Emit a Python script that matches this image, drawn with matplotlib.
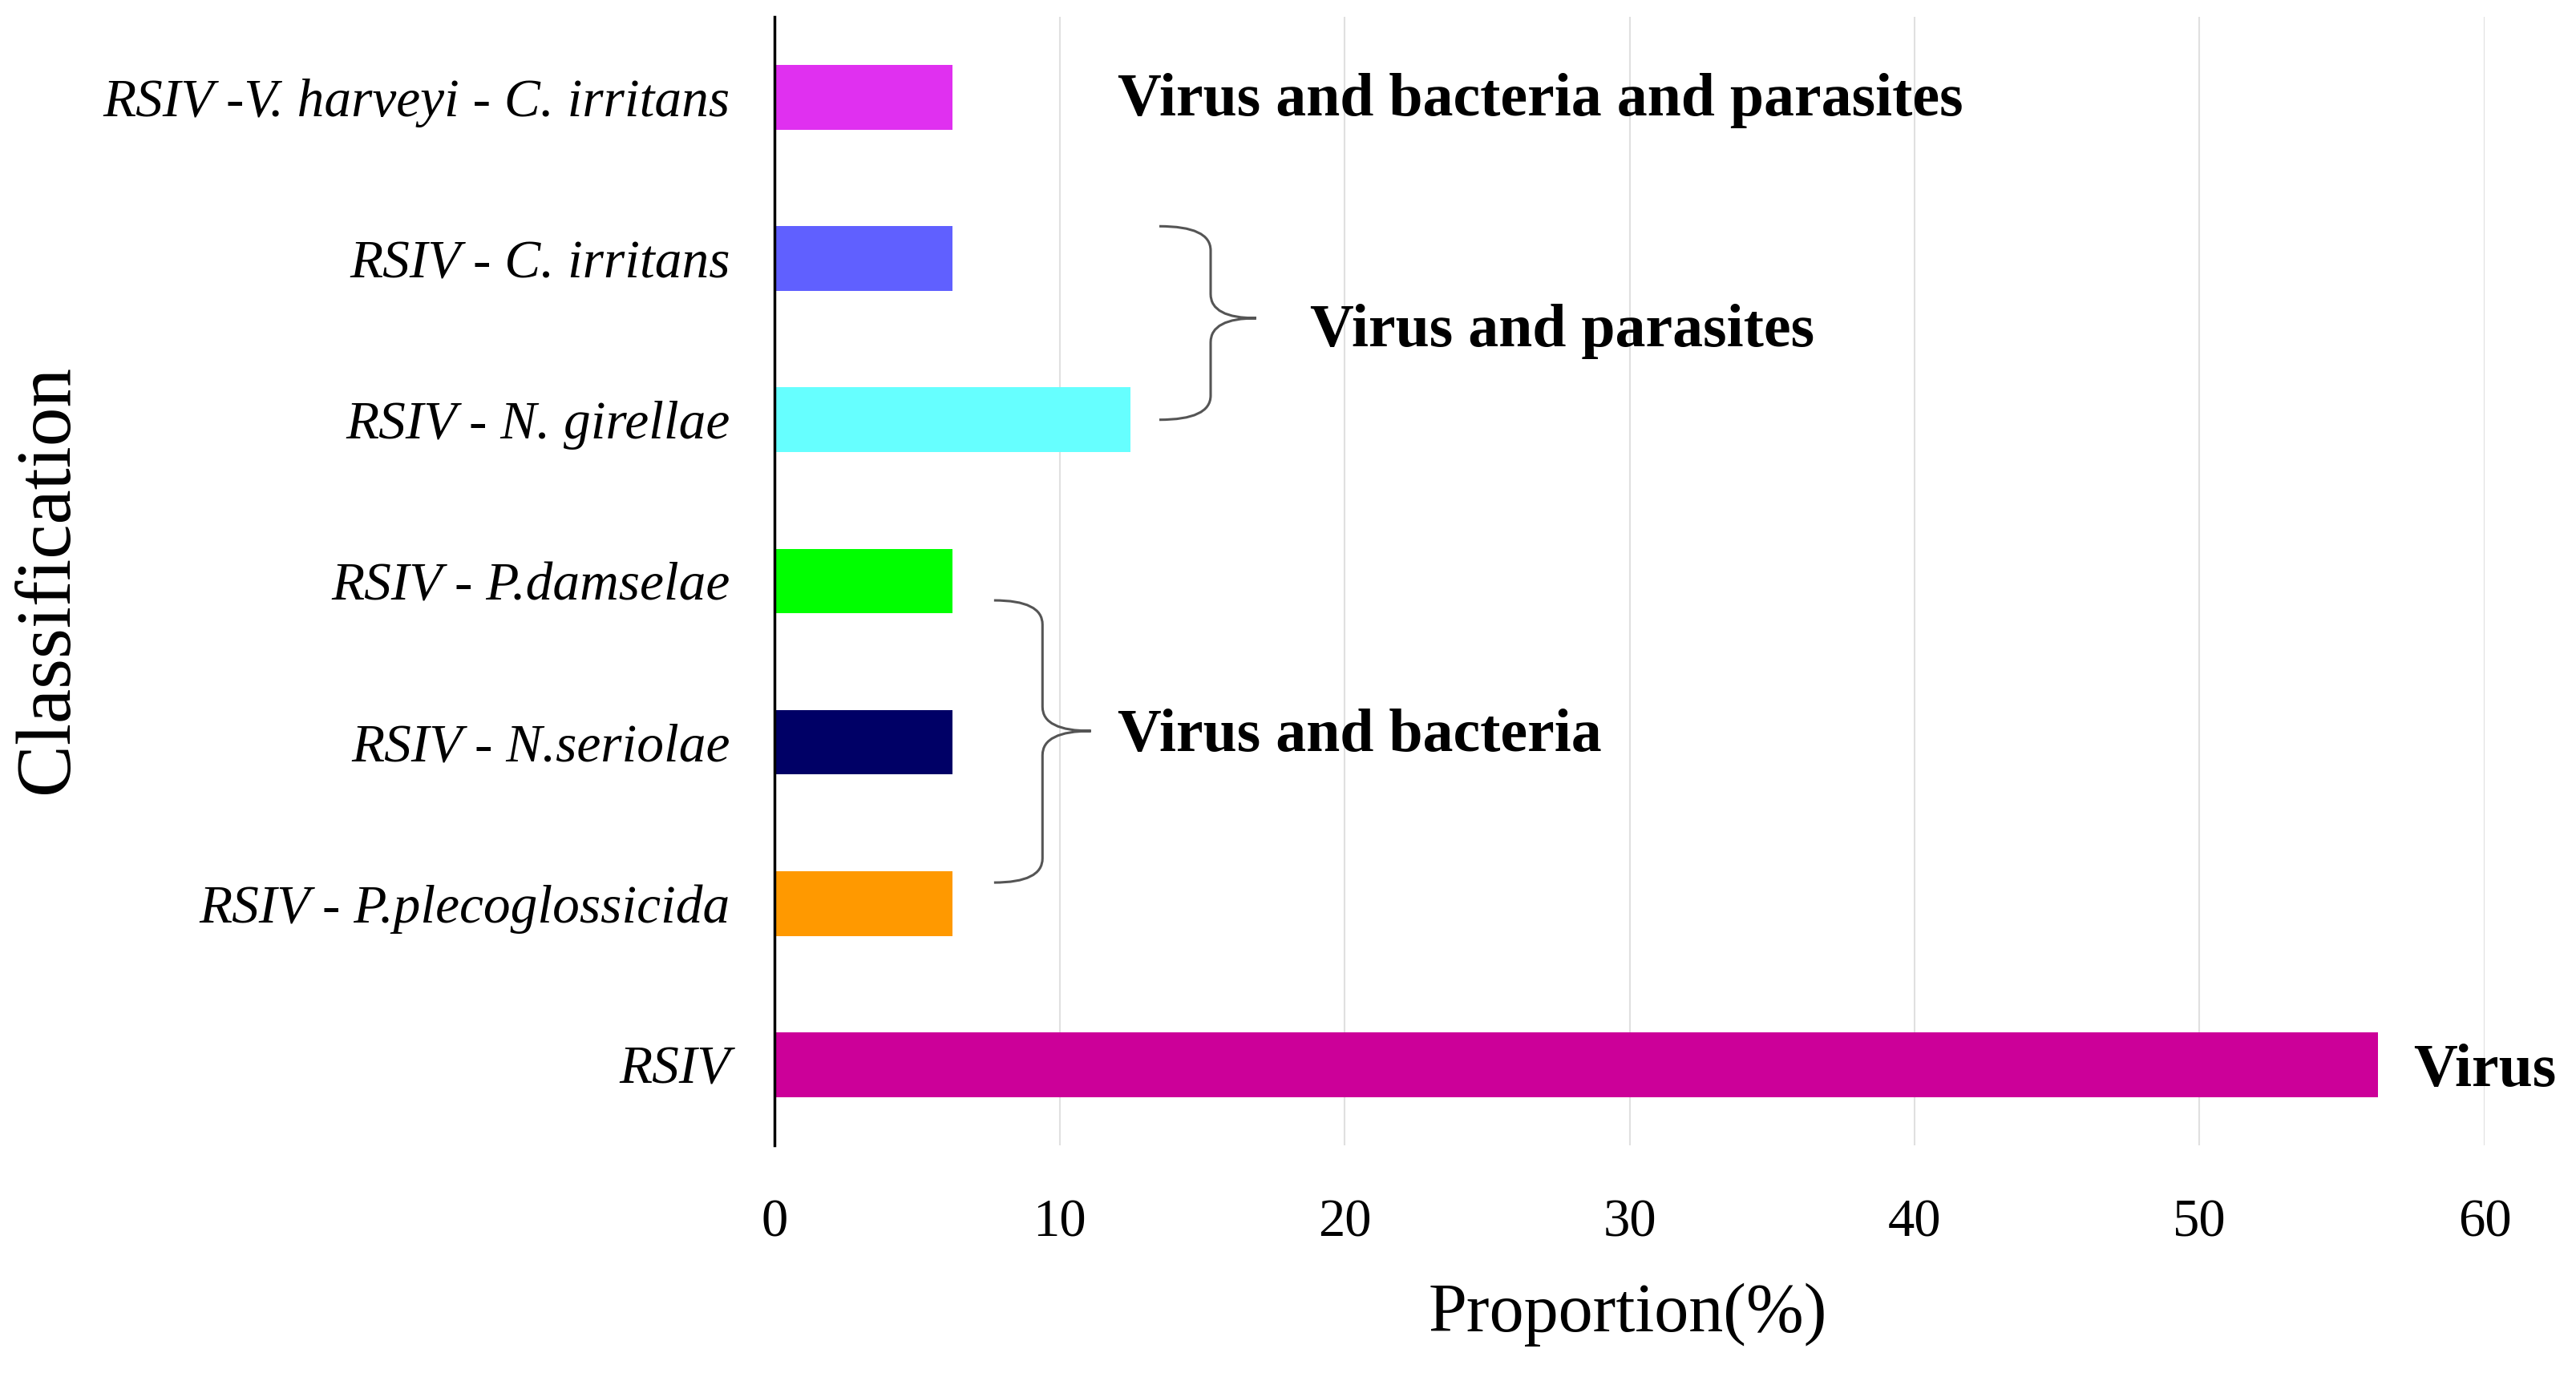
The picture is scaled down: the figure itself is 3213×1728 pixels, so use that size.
import matplotlib
matplotlib.use("Agg")
import matplotlib.pyplot as plt
from matplotlib.path import Path
from matplotlib.patches import PathPatch

# data (bottom to top)
categories = ["RSIV", "RSIV - P.plecoglossicida", "RSIV - N.seriolae",
              "RSIV - P.damselae", "RSIV - N. girellae", "RSIV - C. irritans",
              "RSIV -V. harveyi - C. irritans"]
proportion = [56.25, 6.25, 6.25, 6.25, 12.5, 6.25, 6.25]
colors = ["#CC0099", "#FF9900", "#000066", "#00FF00", "#66FFFF", "#6060FF", "#E030F0"]
xticks = [0, 10, 20, 30, 40, 50, 60]

plt.rcParams["font.family"] = ["Liberation Serif", "DejaVu Serif"]

fig = plt.figure(figsize=(32.13, 17.28), dpi=100)
ax = fig.add_axes([0.3007, 0.173, 0.6638, 0.815])

y = range(len(categories))
ax.barh(y, proportion, height=0.4, color=colors, zorder=3)

ax.set_xlim(0, 60)
ax.set_ylim(-0.5, 6.5)
ax.set_xticks(xticks)
ax.set_yticks(list(y))
ax.set_yticklabels(categories, fontsize=48.5, style="italic")
ax.tick_params(axis="x", labelsize=48, length=0, pad=48)
ax.tick_params(axis="y", length=0, pad=40)
ax.grid(axis="x", color="#E0E0E0", linewidth=1.5, zorder=0)
for s in ["top", "right", "bottom"]:
    ax.spines[s].set_visible(False)
ax.spines["left"].set_linewidth(2.5)
ax.spines["left"].set_zorder(4)

fig.text(0.019, 0.582, "Classification", fontsize=70, rotation=90,
         ha="center", va="center")
fig.text(0.632, 0.051, "Proportion(%)", fontsize=62, ha="center", va="center")


def brace(x0, x1, x2, yt, yb, ym, r=0.15):
    # curly brace opening to the left, point at (x2, ym)
    verts = [(x0, yt), (x1, yt), (x1, yt - r), (x1, ym + r), (x1, ym), (x2, ym),
             (x2, ym), (x1, ym), (x1, ym - r), (x1, yb + r), (x1, yb), (x0, yb)]
    codes = [Path.MOVETO, Path.CURVE3, Path.CURVE3, Path.LINETO, Path.CURVE3, Path.CURVE3,
             Path.MOVETO, Path.CURVE3, Path.CURVE3, Path.LINETO, Path.CURVE3, Path.CURVE3]
    ax.add_patch(PathPatch(Path(verts, codes), fill=False, edgecolor="#555555",
                           linewidth=2.2, clip_on=False, zorder=5))


brace(13.5, 15.3, 16.9, 5.2, 4.0, 4.63)
brace(7.7, 9.4, 11.1, 2.88, 1.13, 2.07)

bold = dict(fontsize=54.5, fontweight="bold", va="center", ha="left")
ax.text(12.05, 5.98, "Virus and bacteria and parasites", **bold)
ax.text(18.8, 4.55, "Virus and parasites", **bold)
ax.text(12.05, 2.04, "Virus and bacteria", **bold)
ax.text(57.5, -0.04, "Virus", clip_on=False, **bold)

fig.savefig("out.png", dpi=100, facecolor="white")
